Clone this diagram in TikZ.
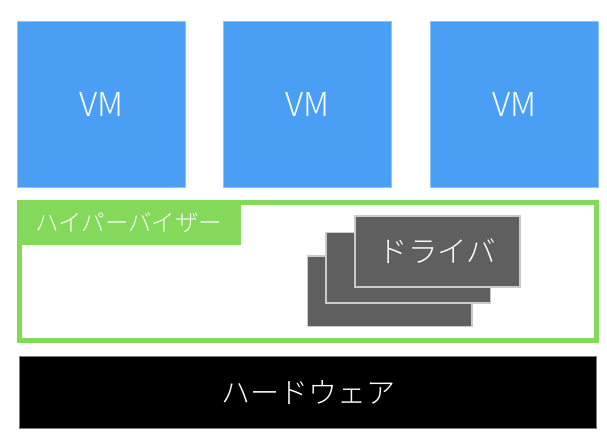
\documentclass[tikz,border=0pt]{standalone}
\usepackage{fontspec}
\setmainfont{Noto Sans CJK JP Light}
\definecolor{vmblue}{HTML}{4A9FF5}
\definecolor{vmedge}{HTML}{8CC3F8}
\definecolor{hvgreen}{HTML}{84D85A}
\definecolor{drvgray}{HTML}{5F5F5F}
\definecolor{drvedge}{HTML}{CACACA}
\definecolor{hwedge}{HTML}{7A7A7A}
\begin{document}
\begin{tikzpicture}[x=1pt,y=-1pt,
  vmbox/.style={rectangle, fill=vmblue, draw=vmedge, line width=0.8pt, inner sep=0pt,
    minimum width=168pt, minimum height=165.5pt, text=white, font=\fontsize{33}{36}\selectfont},
  hvframe/.style={rectangle, draw=hvgreen, line width=5pt, inner sep=0pt,
    minimum width=577pt, minimum height=138.3pt},
  hvtag/.style={rectangle, fill=hvgreen, inner sep=0pt, minimum width=224pt, minimum height=45pt,
    text=white, font=\fontsize{23.5}{26}\selectfont},
  drvbox/.style={rectangle, fill=drvgray, draw=drvedge, line width=1.6pt, inner sep=0pt,
    minimum width=164.5pt, minimum height=70.5pt, text=white, font=\fontsize{29.5}{32}\selectfont},
  hwbox/.style={rectangle, fill=black, draw=hwedge, line width=0.8pt, inner sep=0pt,
    minimum width=577pt, minimum height=72.5pt, text=white, font=\fontsize{29}{32}\selectfont}]
\useasboundingbox (0,0) rectangle (607,442);
\node[vmbox] (vm1) at (101.5,104.2) {VM};
\node[vmbox] (vm2) at (307.8,104.2) {VM};
\node[vmbox] (vm3) at (514.3,104.2) {VM};
\node[hvframe] (hv) at (307.7,271.65) {};
\node[hvtag, anchor=north west] (hvlabel) at (16.7,200) {ハイパーバイザー};
\node[drvbox] (drv3) at (389.7,291.4) {};
\node[drvbox] (drv2) at (408.2,267.9) {};
\node[drvbox] (drv1) at (437.5,251.5) {ドライバ};
\node[hwbox] (hw) at (308,392.4) {ハードウェア};
\end{tikzpicture}
\end{document}
